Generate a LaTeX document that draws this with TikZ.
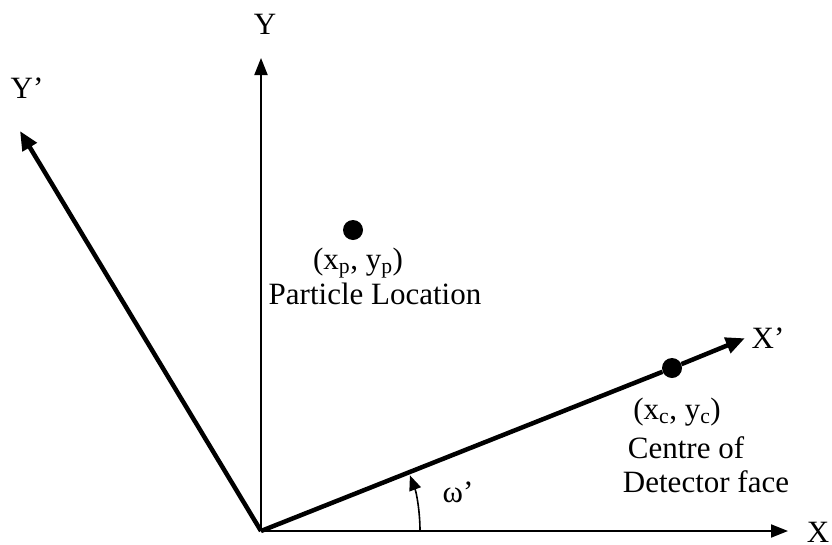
\documentclass[tikz,border=0pt]{standalone}
\usepackage{fontspec}
\setmainfont{Liberation Serif}
\usetikzlibrary{arrows.meta}
\begin{document}
\begin{tikzpicture}[x=1pt,y=-1pt,
  lbl/.style={font=\fontsize{31}{34}\selectfont, inner sep=0pt, align=center},
  thinaxis/.style={line width=2pt, -{Triangle[length=17pt,width=13pt]}},
  thickaxis/.style={line width=4.5pt, -{Triangle[length=19pt,width=16pt]}},
  dot/.style={circle, fill=black, minimum size=20pt, inner sep=0pt}]
\useasboundingbox (0,0) rectangle (832,544);
\coordinate (O) at (261,531);
\coordinate (Xe) at (788,531);
\coordinate (Ye) at (261,58);
\coordinate (Xpe) at (743,339);
\coordinate (Ype) at (20,131);
\node[dot] (P) at (353,230) {};
\node[dot] (C) at (672,368) {};
\draw[thinaxis] (O) -- (Xe);
\draw[thinaxis] (O) -- (Ye);
\draw[thickaxis, shorten >=-2pt] (O) -- (C) -- (Xpe);
\draw[thickaxis] (O) -- (Ype);
\draw[line width=1.6pt, -{Triangle[length=15pt,width=12pt]}] (420,531) arc[start angle=0, end angle=-20.5, radius=159];
\node[lbl] (Yl) at (265,24) {Y};
\node[lbl] (Ypl) at (27,88) {Y’};
\node[lbl] (Xl) at (818,532) {X};
\node[lbl] (Xpl) at (768,338) {X’};
\node[lbl] (Pl) at (358,263) {(x\textsubscript{p}, y\textsubscript{p})};
\node[lbl] (Pn) at (375,294) {Particle Location};
\node[lbl] (Cl) at (677,412) {(x\textsubscript{c}, y\textsubscript{c})};
\node[lbl] (Cn1) at (686,448) {Centre of};
\node[lbl] (Cn2) at (706,482) {Detector face};
\node[lbl] (W) at (458,492) {ω’};
\end{tikzpicture}
\end{document}
